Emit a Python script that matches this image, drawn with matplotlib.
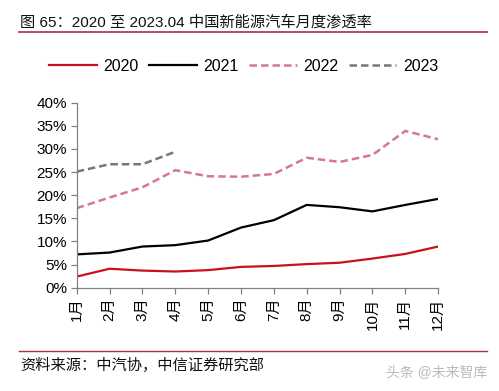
import matplotlib
matplotlib.use('Agg')
import matplotlib.pyplot as plt
from matplotlib.lines import Line2D

plt.rcParams['font.family'] = ['Liberation Sans', 'Noto Sans CJK SC', 'DejaVu Sans']

months = ['1月', '2月', '3月', '4月', '5月', '6月', '7月', '8月', '9月', '10月', '11月', '12月']
y2020 = [2.4, 4.1, 3.7, 3.5, 3.8, 4.5, 4.7, 5.1, 5.4, 6.3, 7.3, 8.9]
y2021 = [7.2, 7.6, 8.9, 9.2, 10.2, 13.0, 14.6, 17.9, 17.4, 16.5, 17.9, 19.2]
y2022 = [17.2, 19.5, 21.7, 25.4, 24.1, 24.0, 24.6, 28.1, 27.2, 28.7, 33.9, 32.1]
y2023 = [25.1, 26.7, 26.7, 29.4]
yticks = [0, 5, 10, 15, 20, 25, 30, 35, 40]

fig = plt.figure(figsize=(4.99, 3.91), dpi=100)
ax = fig.add_axes([0.1537, 0.2642, 0.878 - 0.1537, 0.7373 - 0.2642])

x = list(range(len(months)))
ax.plot(x, y2020, color='#c8101e', lw=1.6, label='2020')
ax.plot(x, y2021, color='#000000', lw=1.6, label='2021')
ax.plot(x, y2022, color='#d6788c', lw=1.8, dashes=(3, 1.6), label='2022')
ax.plot(x[:len(y2023)], y2023, color='#777777', lw=1.8, dashes=(3, 1.6), label='2023')

ax.set_xlim(0, 11)
ax.set_ylim(0, 40)
ax.set_yticks(yticks)
ax.set_yticklabels([f'{v}%' for v in yticks], fontsize=11)
ax.set_xticks(x)
ax.set_xticklabels(months, rotation=90, fontsize=11)
for s in ['top', 'right']:
    ax.spines[s].set_visible(False)
for s in ['left', 'bottom']:
    ax.spines[s].set_color('#808080')
    ax.spines[s].set_linewidth(0.9)
ax.tick_params(axis='both', color='#808080', length=4, width=0.9, pad=3)

# legend
handles = [
    Line2D([], [], color='#c8101e', lw=1.6),
    Line2D([], [], color='#000000', lw=1.6),
    Line2D([], [], color='#d6788c', lw=1.8, dashes=(3, 1.6)),
    Line2D([], [], color='#777777', lw=1.8, dashes=(3, 1.6)),
]
fig.legend(handles, ['2020', '2021', '2022', '2023'], loc='center', ncol=4,
           bbox_to_anchor=(0.488, 0.831), frameon=False, fontsize=11.5,
           handlelength=3.0, handletextpad=0.4, columnspacing=0.65)

# title and rules
fig.text(0.04, 0.942, '图 65：2020 至 2023.04 中国新能源汽车月度渗透率', fontsize=11,
         va='center', ha='left', color='#111111')
fig.add_artist(Line2D([0.038, 0.976], [0.918, 0.918], color='#a8323e', lw=1.2))
fig.add_artist(Line2D([0.038, 0.976], [0.102, 0.102], color='#a8323e', lw=1.0))
fig.text(0.04, 0.066, '资料来源：中汽协，中信证券研究部', fontsize=11,
         va='center', ha='left', color='#111111')
fig.text(0.976, 0.045, '头条 @未来智库', fontsize=10, va='center', ha='right',
         color='#bbbbbb')

fig.savefig('out.png', dpi=100)
